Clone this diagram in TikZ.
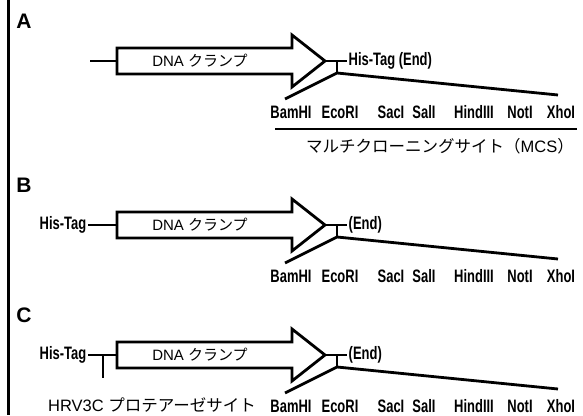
\documentclass[tikz,border=0pt]{standalone}
\usepackage{fontspec}
\setmainfont{Liberation Sans}
\newfontfamily\jpfont{Noto Sans CJK JP}
\newfontfamily\narbold[FakeStretch=0.72]{Liberation Sans Bold}

% one DNA-clamp arrow with its tail, tip, junction and the cloning-site fan
\newcommand{\clampunit}[3]{% #1 name prefix, #2 baseline y, #3 end label
  \begin{scope}[shift={(0,#2)}]
    \coordinate (#1body) at (117,0);
    \coordinate (#1tip) at (325,0);
    \coordinate (#1knot) at (337,0);
    \coordinate (#1join) at (337,12);
    \coordinate (#1fanL) at (285,38);
    \coordinate (#1fanR) at (558,34);
    \draw[thick line, line join=miter, fill=white]
      (#1body) -- (117,-13) -- (292,-13) -- (292,-26) -- (#1tip)
      -- (292,26) -- (292,13) -- (117,13) -- cycle;
    \node[jp] (#1dna) at (200,0) {DNA {\jpfont クランプ}};
    \node[bold label, anchor=west] (#1end) at (347,0) {#3};
    \draw[thick line] (#1tip) -- (#1end.west);
    \draw[thick line] (#1knot) -- (#1join);
    \draw[thick line, line join=miter] (#1fanL) -- (#1join) -- (#1fanR);
    \node[enz] (#1bam) at (291,51) {BamHI};
    \node[enz] (#1eco) at (340,51) {EcoRI};
    \node[enz] (#1sac) at (391,51) {SacI};
    \node[enz] (#1sal) at (424,51) {SalI};
    \node[enz] (#1hind) at (474,51) {HindIII};
    \node[enz] (#1not) at (520,51) {NotI};
    \node[enz] (#1xho) at (561,51) {XhoI};
  \end{scope}}

\begin{document}
\begin{tikzpicture}[x=1pt,y=-1pt,
  thick line/.style={line width=2.8pt},
  bold label/.style={font=\narbold\fontsize{18}{18}\selectfont, inner sep=1.5pt},
  enz/.style={font=\narbold\fontsize{18}{18}\selectfont, inner sep=0pt},
  jp/.style={font=\fontsize{15}{15}\selectfont, inner sep=0pt},
  jpbig/.style={font=\fontsize{16.5}{16.5}\selectfont, inner sep=0pt},
  panel/.style={font=\bfseries\fontsize{21}{21}\selectfont, inner sep=0pt}]

\useasboundingbox[fill=white] (0,0) rectangle (583,415);

% frame line on the left
\coordinate (frameTop) at (8,0);
\coordinate (frameBot) at (8,415);
\draw[line width=3pt] (frameTop) -- (frameBot);

% ---------- A ----------
\node[panel] (labA) at (24,21) {A};
\coordinate (Atail) at (90,61);
\clampunit{A}{61}{His-Tag (End)}
\draw[thick line] (Atail) -- (Abody);
\coordinate (mcsL) at (275,129);
\coordinate (mcsR) at (577,129);
\draw[thick line] (mcsL) -- (mcsR);
\node[jpbig] (mcs) at (440,146) {\jpfont マルチクローニングサイト（\rmfamily MCS\jpfont ）};

% ---------- B ----------
\node[panel] (labB) at (24,185) {B};
\node[bold label, anchor=east] (Bhis) at (88,225) {His-Tag};
\clampunit{B}{225}{(End)}
\draw[thick line] (Bhis.east) -- (Bbody);

% ---------- C ----------
\node[panel] (labC) at (24,315) {C};
\node[bold label, anchor=east] (Chis) at (88,355) {His-Tag};
\clampunit{C}{355}{(End)}
\draw[thick line] (Chis.east) -- (Cbody);
\coordinate (Ccut) at (103,355);
\coordinate (CcutEnd) at (103,378);
\draw[thick line] (Ccut) -- (CcutEnd);
\node[jpbig, anchor=west] (hrv) at (48,405) {HRV3C {\jpfont プロテアーゼサイト}};

\end{tikzpicture}
\end{document}
